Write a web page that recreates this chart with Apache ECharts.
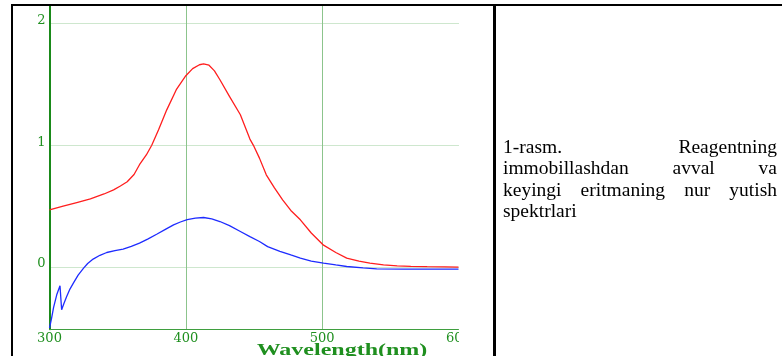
<!DOCTYPE html>
<html><head><meta charset="utf-8">
<script src="https://cdn.jsdelivr.net/npm/echarts@6/dist/echarts.min.js"></script>
<style>
html,body{margin:0;padding:0;background:#fff;}
#wrap{position:relative;width:782px;height:356px;overflow:hidden;}
#chart{position:absolute;left:0;top:0;width:782px;height:356px;}
.b{position:absolute;background:#000;}
#cover{position:absolute;left:459px;top:0;width:34px;height:356px;background:#fff;}
#cap{position:absolute;left:503px;top:136.1px;width:274px;font-family:"Liberation Serif","Times New Roman",serif;font-size:19.5px;line-height:21.3px;color:#000;}
#cap div{text-align:justify;text-align-last:justify;white-space:nowrap;}
#cap div.last{text-align:left;text-align-last:left;}
</style></head>
<body><div id="wrap">
<div id="chart"></div>
<div id="cover"></div>
<div class="b" style="left:11px;top:4px;width:771px;height:2px"></div>
<div class="b" style="left:11px;top:4px;width:2px;height:352px"></div>
<div class="b" style="left:493px;top:4px;width:3px;height:352px"></div>
<div id="cap"><div>1-rasm. Reagentning</div><div>immobillashdan avval va</div><div>keyingi eritmaning nur yutish</div><div class="last">spektrlari</div></div>
</div>
<script>
// Data
var redWavelength = [300,310,320,330,340,347,352,357,362,366,371,375,380,386,393,400,405,410,413,417,421,425,432,440,447,450,454,459,465,471,477,484,492,501,510,518,527,535,545,555,565,577,590,600];
var redAbs =        [0.47,0.50,0.53,0.56,0.60,0.634,0.665,0.70,0.76,0.84,0.92,1.00,1.126,1.29,1.455,1.57,1.628,1.660,1.667,1.656,1.61,1.537,1.40,1.25,1.05,0.99,0.894,0.757,0.65,0.552,0.465,0.388,0.28,0.18,0.12,0.074,0.05,0.033,0.018,0.01,0.006,0.004,0.002,0.0];
var blueWavelength = [300,301.5,303,305.3,307.7,308.9,310.5,312.6,315,317.5,321,325,328,332,337,342,348,354,360,366,372,378.6,385,391,396,401,407,413,419,425,432,440,447,454,460,469,477,484,492,501,510,518,530,540,560,580,600];
var blueAbs =        [-0.50,-0.42,-0.33,-0.227,-0.153,-0.35,-0.30,-0.241,-0.18,-0.131,-0.065,-0.008,0.03,0.066,0.097,0.12,0.135,0.148,0.17,0.197,0.23,0.27,0.31,0.347,0.37,0.39,0.402,0.407,0.395,0.374,0.34,0.292,0.25,0.21,0.168,0.13,0.10,0.074,0.05,0.033,0.018,0.005,-0.007,-0.014,-0.016,-0.016,-0.016];
var xTickLabels = [300,400,500,600];
var xGridValues = [400,500];
var yTickLabels = [0,1,2];
var axisTitle = 'Wavelength(nm)';

function pairs(xs, ys){ return xs.map(function(x,i){ return [x, ys[i]]; }); }

var green = '#1f8f1f';
var chart = echarts.init(document.getElementById('chart'), null, {renderer:'canvas'});
chart.setOption({
  animation:false,
  backgroundColor:'transparent',
  grid:{left:49.5, right:323.5, top:5, bottom:26.7, outerBoundsMode:'none', containLabel:false},
  xAxis:{
    type:'value', min:300, max:600,
    axisLine:{onZero:false, lineStyle:{color:'#3f9f3f', width:1}},
    axisTick:{show:false, customValues:xGridValues},
    axisLabel:{customValues:xTickLabels, color:green, fontFamily:'DejaVu Serif', fontSize:13, margin:3},
    splitLine:{show:true, lineStyle:{color:'#8cc48c', width:1}}
  },
  yAxis:{
    type:'value', min:-0.51, max:2.15,
    axisLine:{show:true, onZero:false, lineStyle:{color:'#1a8a1a', width:2}},
    axisTick:{show:false, customValues:yTickLabels},
    axisLabel:{customValues:yTickLabels, color:green, fontFamily:'DejaVu Serif', fontSize:13, margin:4, verticalAlign:'bottom', lineHeight:6},
    splitLine:{show:true, lineStyle:{color:'#9ccf9c', width:1, type:'dotted'}}
  },
  graphic:[{type:'text', x:342, y:343, scaleX:1.5, z:10,
    style:{text:axisTitle, font:'bold 16px "Liberation Serif"', fill:green, align:'center', verticalAlign:'top'}}],
  series:[
    {type:'line', data:pairs(redWavelength, redAbs), showSymbol:false, lineStyle:{color:'#ff1e1e', width:1.3}, itemStyle:{color:'#ff1e1e'}},
    {type:'line', data:pairs(blueWavelength, blueAbs), showSymbol:false, lineStyle:{color:'#1e2cff', width:1.3}, itemStyle:{color:'#1e2cff'}}
  ]
});
</script>
</body></html>
